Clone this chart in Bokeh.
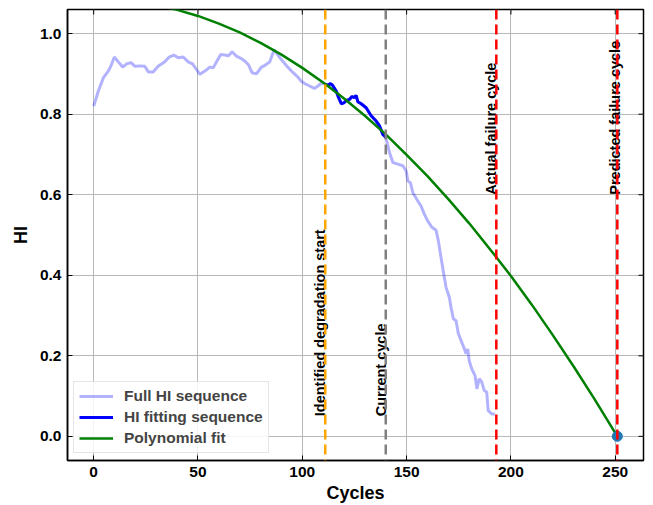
import math
from bokeh.plotting import figure
from bokeh.models import (ColumnDataSource, Range1d, Span, Legend, LegendItem,
                          FixedTicker, PrintfTickFormatter)
from bokeh.core.properties import value
from bokeh.embed import file_html
from bokeh.resources import INLINE

# Health indicator over the whole run
full_cycles = [0, 2.2, 4.6, 7, 8.2, 9.9, 11.8, 13.9, 15.8, 17.9, 19.8, 22.2, 24.5, 26.2,
               28.5, 30.9, 34.1, 36.2, 38.4, 40.5, 42.9, 45.3, 47.4, 49.3, 50.9, 53.3,
               55.7, 57.3, 58.9, 60.9, 62.8, 64.6, 66.4, 68.4, 70.8, 72.4, 74.3, 75.9,
               78, 80.4, 82.3, 84.4, 86.5, 88.7, 91.2, 93.4, 95.6, 97.9, 99.5, 101.9,
               103.5, 105.8, 107.5, 109.4, 111, 112.2, 113.5, 114.5, 116.3, 117.4,
               118.7, 119.9, 121.1, 122.7, 123.8, 125, 125.8, 126.6, 128.2, 130.6,
               133, 135.4, 137, 138.6, 139.4, 140, 141.8, 143.4, 145.8, 148.2, 149.8,
               150.6, 151.8, 153, 155.3, 156.9, 158.5, 160.1, 162, 164.1, 165.2,
               166.5, 167.8, 168.9, 170.5, 171.3, 172.4, 173.7, 174.8, 176.4, 177.4,
               178.5, 179.3, 180, 181.2, 182.8, 183.7, 184.8, 186, 187.2, 188.4,
               189.1, 190.7, 192.3]
full_hi = [0.820, 0.857, 0.890, 0.907, 0.919, 0.942, 0.930, 0.917, 0.925, 0.928, 0.919,
           0.920, 0.919, 0.905, 0.905, 0.919, 0.930, 0.942, 0.947, 0.940, 0.942, 0.930,
           0.925, 0.911, 0.899, 0.907, 0.917, 0.915, 0.930, 0.948, 0.947, 0.945, 0.955,
           0.944, 0.938, 0.932, 0.922, 0.903, 0.900, 0.917, 0.922, 0.930, 0.960, 0.944,
           0.928, 0.915, 0.903, 0.892, 0.882, 0.874, 0.870, 0.864, 0.870, 0.878, 0.874,
           0.872, 0.876, 0.872, 0.857, 0.841, 0.826, 0.828, 0.834, 0.837, 0.844, 0.841,
           0.847, 0.831, 0.826, 0.816, 0.796, 0.783, 0.771, 0.750, 0.746, 0.742, 0.705,
           0.680, 0.676, 0.672, 0.659, 0.634, 0.630, 0.605, 0.585, 0.572, 0.552, 0.535,
           0.520, 0.512, 0.486, 0.444, 0.403, 0.370, 0.345, 0.320, 0.292, 0.287, 0.255,
           0.234, 0.221, 0.205, 0.217, 0.188, 0.168, 0.151, 0.118, 0.143, 0.135, 0.114,
           0.110, 0.064, 0.056, 0.055]

# Segment used for the fit
fit_cycles = [111, 112.2, 113.5, 114.5, 116.3, 117.4, 118.7, 119.9, 121.1, 122.7, 123.8,
              125, 125.8, 126.6, 128.2, 130.6, 133, 135.4, 137, 138.6, 139.4, 140]
fit_hi = [0.874, 0.872, 0.876, 0.872, 0.857, 0.841, 0.826, 0.828, 0.834, 0.837, 0.844,
          0.841, 0.847, 0.831, 0.826, 0.816, 0.796, 0.783, 0.771, 0.750, 0.746, 0.742]

# Fitted polynomial, sampled along the cycle axis
poly_cycles = [30, 40, 50, 60, 70, 80, 90, 100, 111, 120, 130, 140, 150, 160, 170, 180,
               193, 200, 210, 220, 230, 240, 251]
poly_hi = [1.071, 1.059, 1.044, 1.025, 1.003, 0.977, 0.948, 0.915, 0.875, 0.839, 0.796,
           0.750, 0.699, 0.646, 0.589, 0.529, 0.445, 0.398, 0.327, 0.252, 0.174, 0.093,
           0.000]

degradation_start = 111
current_cycle = 140
actual_failure = 193
predicted_failure = 251

x_ticks = [0, 50, 100, 150, 200, 250]
y_ticks = [0.0, 0.2, 0.4, 0.6, 0.8, 1.0]

FONT = "Liberation Sans"

x_range = Range1d(-12.55, 263.55)
y_range = Range1d(-0.06, 1.06)

p = figure(width=653, height=505, output_backend="svg", toolbar_location=None,
           x_range=x_range, y_range=y_range,
           min_border_left=67, min_border_right=10, min_border_top=9,
           min_border_bottom=45)

p.background_fill_color = "white"
p.border_fill_color = "white"
p.outline_line_color = "black"
p.outline_line_width = 1.5

for ax in (p.xaxis[0], p.yaxis[0]):
    ax.major_tick_in = 5
    ax.major_tick_out = 0
    ax.minor_tick_in = 0
    ax.minor_tick_out = 0
    ax.axis_line_color = "black"
    ax.axis_line_width = 1.5
    ax.major_label_text_font = FONT
    ax.major_label_text_font_style = "bold"
    ax.major_label_text_font_size = "15.5px"
    ax.major_label_text_color = "black"
    ax.axis_label_text_font = FONT
    ax.axis_label_text_font_style = "bold"
    ax.axis_label_text_font_size = "18px"
    ax.axis_label_text_color = "black"
    ax.major_label_standoff = 6

p.xaxis[0].ticker = FixedTicker(ticks=x_ticks)
p.yaxis[0].ticker = FixedTicker(ticks=y_ticks)
p.xaxis[0].formatter = PrintfTickFormatter(format="%d")
p.yaxis[0].formatter = PrintfTickFormatter(format="%.1f")
p.xaxis[0].axis_label = "Cycles"
p.yaxis[0].axis_label = "HI"
p.xaxis[0].axis_label_standoff = 3
p.yaxis[0].axis_label_standoff = 6

p.xgrid.grid_line_color = "#b8b8b8"
p.ygrid.grid_line_color = "#b8b8b8"
p.xgrid.grid_line_width = 1
p.ygrid.grid_line_width = 1

# Inward tick marks along the top and right edges of the frame
p.ray(x=x_ticks, y=[y_range.end] * len(x_ticks), length=5, length_units="screen",
      angle=-math.pi / 2, line_color="black", line_width=1)
p.ray(x=[x_range.end] * len(y_ticks), y=y_ticks, length=5, length_units="screen",
      angle=math.pi, line_color="black", line_width=1)

r_full = p.line(full_cycles, full_hi, line_color="blue", line_alpha=0.3, line_width=3)
r_fit = p.line(fit_cycles, fit_hi, line_color="blue", line_width=3)
r_poly = p.line(poly_cycles, poly_hi, line_color="green", line_width=2.5)

for loc, col in ((degradation_start, "orange"), (current_cycle, "gray"),
                 (actual_failure, "red"), (predicted_failure, "red")):
    p.add_layout(Span(location=loc, dimension="height", line_color=col,
                      line_width=2.5, line_dash="10 5"))

p.scatter([predicted_failure], [0.0], size=10, color="#1f77b4")

labels = ColumnDataSource(dict(
    x=[degradation_start, current_cycle, actual_failure, predicted_failure + 1.2],
    y=[0.05, 0.05, 0.6, 0.6],
    t=["Identified degradation start", "Current cycle", "Actual failure cycle",
       "Predicted failure cycle"],
))
p.text(x="x", y="y", text="t", source=labels, angle=math.pi / 2,
       text_align="left", text_baseline="bottom", x_offset=3, text_font=value(FONT),
       text_font_style="bold", text_font_size="14.5px", text_color="black")

legend = Legend(items=[LegendItem(label="Full HI sequence", renderers=[r_full]),
                       LegendItem(label="HI fitting sequence", renderers=[r_fit]),
                       LegendItem(label="Polynomial fit", renderers=[r_poly])],
                location=(6, 7))
legend.label_text_font = FONT
legend.label_text_font_style = "bold"
legend.label_text_font_size = "15.5px"
legend.glyph_width = 34
legend.glyph_height = 14
legend.label_height = 14
legend.spacing = 3
legend.padding = 5
legend.margin = 0
legend.label_standoff = 11
legend.border_line_color = "#cccccc"
legend.border_line_width = 1
legend.background_fill_alpha = 0.85
p.add_layout(legend)

open("out.html", "w").write(file_html(p, INLINE))
